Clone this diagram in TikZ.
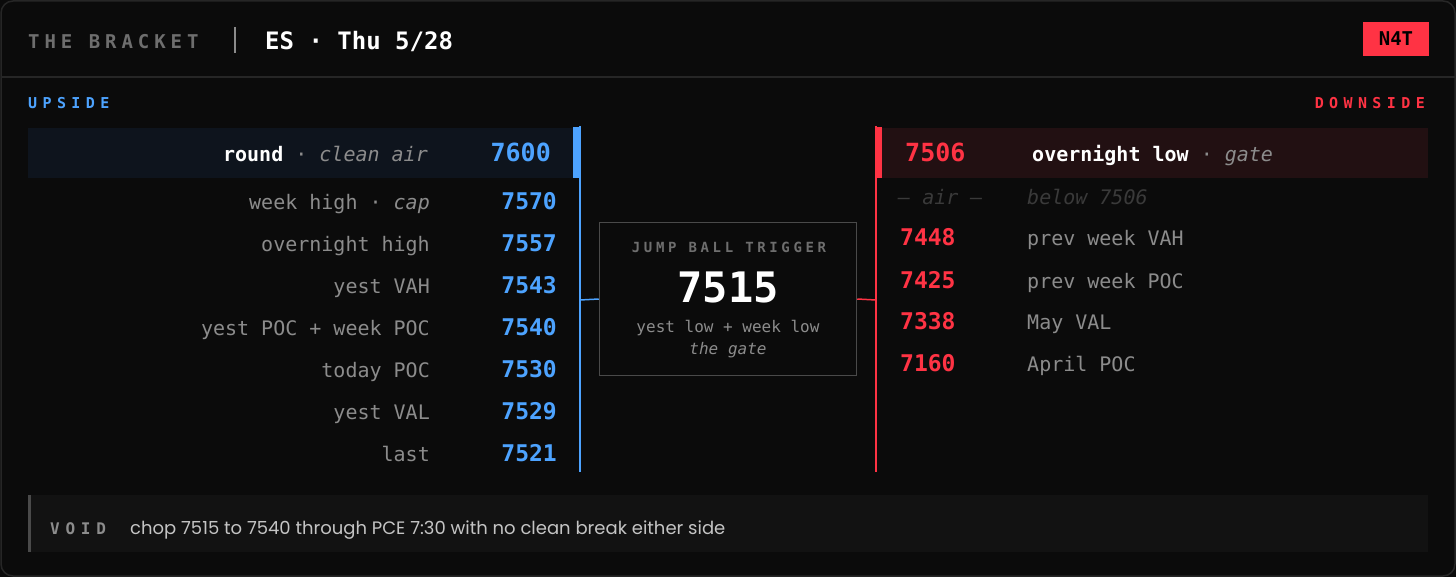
\documentclass[tikz,border=0pt]{standalone}
\usepackage{fontspec}
\setmonofont{DejaVu Sans Mono}
\newfontfamily\widemono[LetterSpace=26]{DejaVu Sans Mono}
\newfontfamily\widermono[LetterSpace=36]{DejaVu Sans Mono}
\newfontfamily\voidfont{Poppins}
\definecolor{bgdark}{HTML}{0B0B0B}
\definecolor{edge}{HTML}{262626}
\definecolor{upblue}{HTML}{4DA3FF}
\definecolor{downred}{HTML}{FF3344}
\definecolor{lbl}{HTML}{8C8C8C}
\definecolor{dimlbl}{HTML}{3A3A3A}
\definecolor{hdrgray}{HTML}{6E6E6E}
\definecolor{upfill}{HTML}{0E141D}
\definecolor{downfill}{HTML}{221012}
\definecolor{boxedge}{HTML}{4A4A4A}
\definecolor{voidfill}{HTML}{121212}
\definecolor{voidink}{HTML}{C4C4C4}
\newcommand{\rowfont}{\ttfamily\fontsize{20}{24}\selectfont}
\newcommand{\numfont}{\ttfamily\bfseries\fontsize{23}{28}\selectfont}
\newcommand{\bignumfont}{\ttfamily\bfseries\fontsize{25}{30}\selectfont}

\begin{document}
\begin{tikzpicture}[x=1pt,y=-1pt,inner sep=0pt]
		\tikzstyle{uplbl}=[anchor=base east,text=lbl,font=\rowfont];
		\tikzstyle{upnum}=[anchor=base east,text=upblue,font=\numfont];
		\tikzstyle{dnlbl}=[anchor=base west,text=lbl,font=\rowfont];
		\tikzstyle{dnnum}=[anchor=base west,text=downred,font=\numfont];
		\tikzstyle{rail}=[line width=1.5pt];
		\fill[bgdark](0,0)rectangle(1456,577);
		\useasboundingbox(0,0)rectangle(1456,577);
		\draw[edge,line width=1.5pt,rounded corners=12pt](1,1)rectangle(1455,576);

		% header
		\node[anchor=base west,text=hdrgray,font=\widemono\bfseries\fontsize{19}{22}\selectfont](title)at(28,49){THE BRACKET};
		\coordinate(sepT)at(235,27);\coordinate(sepB)at(235,53);
		\draw[hdrgray!80,line width=2pt](sepT)--(sepB);
		\node[anchor=base west,text=white,font=\ttfamily\bfseries\fontsize{24}{28}\selectfont](sym)at(265,50){ES · Thu 5/28};
		\node[fill=downred,minimum width=66pt,minimum height=34pt,text=black,font=\ttfamily\bfseries\fontsize{19}{22}\selectfont](tag)at(1396,39){N4T};
		\coordinate(ruleL)at(1,77);\coordinate(ruleR)at(1455,77);
		\draw[edge,line width=1.5pt](ruleL)--(ruleR);

		\node[anchor=base west,text=upblue,font=\widermono\bfseries\fontsize{15}{18}\selectfont](uphead)at(28,109){UPSIDE};
		\node[anchor=base east,text=downred,font=\widermono\bfseries\fontsize{15}{18}\selectfont](dnhead)at(1425,109){DOWNSIDE};

		% upside
		\fill[upfill](28,128)rectangle(573,178);
		\fill[upblue](573,127)rectangle(579,178);
		\coordinate(upTop)at(580,126);\coordinate(upBot)at(580,472);
		\draw[rail,upblue](upTop)--(upBot);
		\node[uplbl](u0)at(428,162){{\color{white}\bfseries round} · \textit{clean air}};
		\node[upnum,font=\bignumfont](n0)at(551,162){7600};
		\node[uplbl](u1)at(430,210){week high · \textit{cap}};
		\node[upnum](n1)at(557,210){7570};
		\node[uplbl](u2)at(430,252){overnight high};
		\node[upnum](n2)at(557,252){7557};
		\node[uplbl](u3)at(430,294){yest VAH};
		\node[upnum](n3)at(557,294){7543};
		\node[uplbl](u4)at(430,335){yest POC + week POC};
		\node[upnum](n4)at(557,335){7540};
		\node[uplbl](u5)at(430,377){today POC};
		\node[upnum](n5)at(557,377){7530};
		\node[uplbl](u6)at(430,419){yest VAL};
		\node[upnum](n6)at(557,419){7529};
		\node[uplbl](u7)at(430,461){last};
		\node[upnum](n7)at(557,461){7521};

		% trigger
		\node[draw=boxedge,fill=bgdark,line width=1.5pt,minimum width=257pt,minimum height=153pt](trig)at(728,299){};
		\node[anchor=base,text=hdrgray,font=\widemono\bfseries\fontsize{14}{16}\selectfont](trighead)at(729,253){JUMP BALL TRIGGER};
		\node[anchor=base,text=white,font=\ttfamily\bfseries\fontsize{42}{48}\selectfont](trigval)at(728,302){7515};
		\node[anchor=base,text=lbl,font=\ttfamily\fontsize{16}{19}\selectfont](trignote)at(728,332){yest low + week low};
		\node[anchor=base,text=lbl,font=\ttfamily\itshape\fontsize{16}{19}\selectfont](triggate)at(728,354){the gate};
		\coordinate(upTick)at(580,300);\coordinate(dnTick)at(876,300);
		\draw[rail,upblue](upTick)--(trig.west);
		\draw[rail,downred](trig.east)--(dnTick);

		% downside
		\fill[downfill](882,128)rectangle(1428,178);
		\fill[downred](876,127)rectangle(882,178);
		\coordinate(dnTop)at(876,126);\coordinate(dnBot)at(876,472);
		\draw[rail,downred](dnTop)--(dnBot);
		\node[dnnum,font=\bignumfont](d0)at(905,162){7506};
		\node[dnlbl](l0)at(1032,162){{\color{white}\bfseries overnight low} · \textit{gate}};
		\node[dnlbl,text=dimlbl,font=\rowfont\itshape](d1)at(898,205){— air —};
		\node[dnlbl,text=dimlbl,font=\rowfont\itshape](l1)at(1027,205){below 7506};
		\node[dnnum](d2)at(900,246){7448};
		\node[dnlbl](l2)at(1027,246){prev week VAH};
		\node[dnnum](d3)at(900,288){7425};
		\node[dnlbl](l3)at(1027,288){prev week POC};
		\node[dnnum](d4)at(900,329){7338};
		\node[dnlbl](l4)at(1027,329){May VAL};
		\node[dnnum](d5)at(900,371){7160};
		\node[dnlbl](l5)at(1027,371){April POC};

		% void
		\fill[voidfill](28,495)rectangle(1428,552);
		\fill[boxedge](28,495)rectangle(31,552);
		\node[anchor=base west,text=lbl,font=\widermono\bfseries\fontsize{16}{18}\selectfont](voidlbl)at(50,534){VOID};
		\node[anchor=base west,text=voidink,font=\voidfont\fontsize{18}{21}\selectfont](voidtxt)at(130,534){chop 7515 to 7540 through PCE 7:30 with no clean break either side};
	\end{tikzpicture}
\end{document}
